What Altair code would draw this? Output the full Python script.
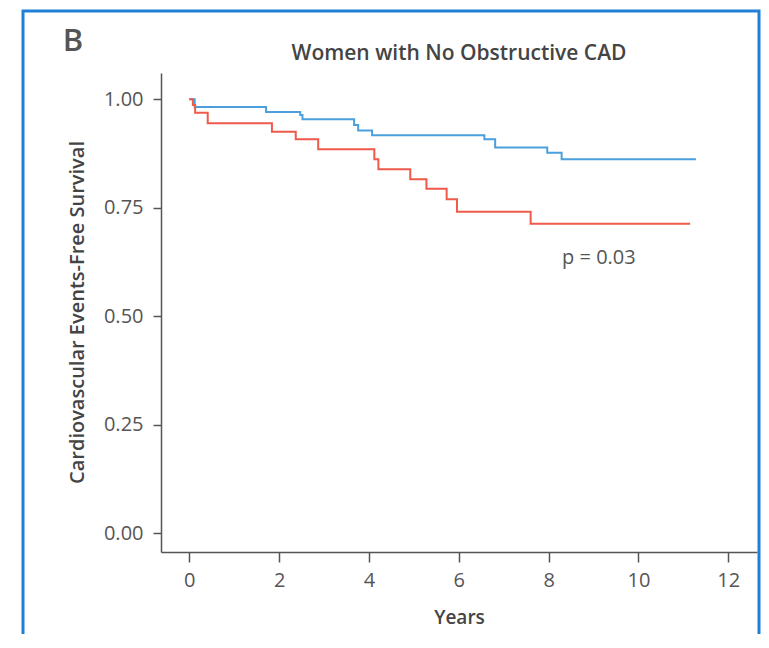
import altair as alt
import pandas as pd

# Kaplan-Meier step curves
red_years = [0, 0.08, 0.13, 0.41, 1.84, 2.37, 2.87, 4.12, 4.21, 4.92, 5.28, 5.73, 5.96, 7.60, 11.15]
red_surv = [1.0, 0.987, 0.969, 0.945, 0.925, 0.908, 0.885, 0.862, 0.839, 0.816, 0.794, 0.770, 0.741, 0.713, 0.713]
blue_years = [0, 0.12, 1.71, 2.47, 2.52, 3.67, 3.76, 4.07, 6.57, 6.81, 7.97, 8.29, 11.28]
blue_surv = [1.0, 0.982, 0.971, 0.964, 0.954, 0.941, 0.928, 0.917, 0.908, 0.889, 0.877, 0.862, 0.862]

x_ticks = [0, 2, 4, 6, 8, 10, 12]
y_ticks = [0.0, 0.25, 0.50, 0.75, 1.00]

annot_x = [9.12]
annot_y = [0.634]
annot_text = ["p = 0.03"]

FONT = "Open Sans"
GREY = "#555555"
RED = "#ef5a4a"
BLUE = "#4a9fdc"

red_df = pd.DataFrame({"years": red_years, "surv": red_surv})
blue_df = pd.DataFrame({"years": blue_years, "surv": blue_surv})
annot_df = pd.DataFrame({"years": annot_x, "surv": annot_y, "label": annot_text})
one = pd.DataFrame({"k": [0]})

x_scale = alt.Scale(domain=[-0.63, 12.64], nice=False, zero=False)
y_scale = alt.Scale(domain=[-0.043, 1.0606], nice=False, zero=False)

x_enc = alt.X(
    "years:Q", scale=x_scale,
    axis=alt.Axis(
        values=x_ticks, format="d", title="Years", grid=False,
        tickSize=10, tickWidth=1.5, domainWidth=1.5,
        domainColor=GREY, tickColor=GREY,
        labelFont=FONT, labelFontSize=20, labelColor=GREY, labelPadding=8,
        titleFont=FONT, titleFontSize=19, titleFontWeight=600, titleColor="#444444",
        titleX=298, titleY=65, titleBaseline="middle", titleAlign="center",
    ),
)
y_enc = alt.Y(
    "surv:Q", scale=y_scale,
    axis=alt.Axis(
        values=y_ticks, format=".2f", title="Cardiovascular Events-Free Survival", grid=False,
        tickSize=8, tickWidth=1.5, domainWidth=1.5,
        domainColor=GREY, tickColor=GREY,
        labelFont=FONT, labelFontSize=20, labelColor=GREY, labelPadding=10,
        titleFont=FONT, titleFontSize=20, titleFontWeight=600, titleColor="#444444",
        titleX=-84, titleY=239, titleAngle=270, titleBaseline="middle", titleAlign="center",
    ),
)

frame = alt.Chart(one).mark_rect(
    fill="white", fillOpacity=0, stroke="#1f80d6", strokeWidth=3
).encode(
    x=alt.value(-138), x2=alt.value(598), y=alt.value(-62), y2=alt.value(620)
)

panel_letter = alt.Chart(one).mark_text(
    text="B", font=FONT, fontSize=31, fontWeight=600, color=GREY, align="center", baseline="middle"
).encode(x=alt.value(-88), y=alt.value(-31))

title_text = alt.Chart(one).mark_text(
    text="Women with No Obstructive CAD", font=FONT, fontSize=21, fontWeight=600,
    color="#444444", align="center", baseline="middle"
).encode(x=alt.value(298), y=alt.value(-19))

blue_line = alt.Chart(blue_df).mark_line(
    interpolate="step-after", color=BLUE, strokeWidth=2
).encode(x=x_enc, y=y_enc)

red_line = alt.Chart(red_df).mark_line(
    interpolate="step-after", color=RED, strokeWidth=2
).encode(x="years:Q", y="surv:Q")

annot = alt.Chart(annot_df).mark_text(
    font=FONT, fontSize=20, color=GREY, align="center", baseline="middle"
).encode(x="years:Q", y="surv:Q", text="label:N")

chart = alt.layer(
    frame, panel_letter, title_text, blue_line, red_line, annot
).properties(
    width=596, height=479,
    background="white",
    autosize=alt.AutoSizeParams(type="none"),
    padding={"left": 153, "top": 65, "right": 4, "bottom": 82},
).configure_view(strokeWidth=0, stroke="transparent")

chart.save("out.html", embed_options={"renderer": "svg", "actions": False})
